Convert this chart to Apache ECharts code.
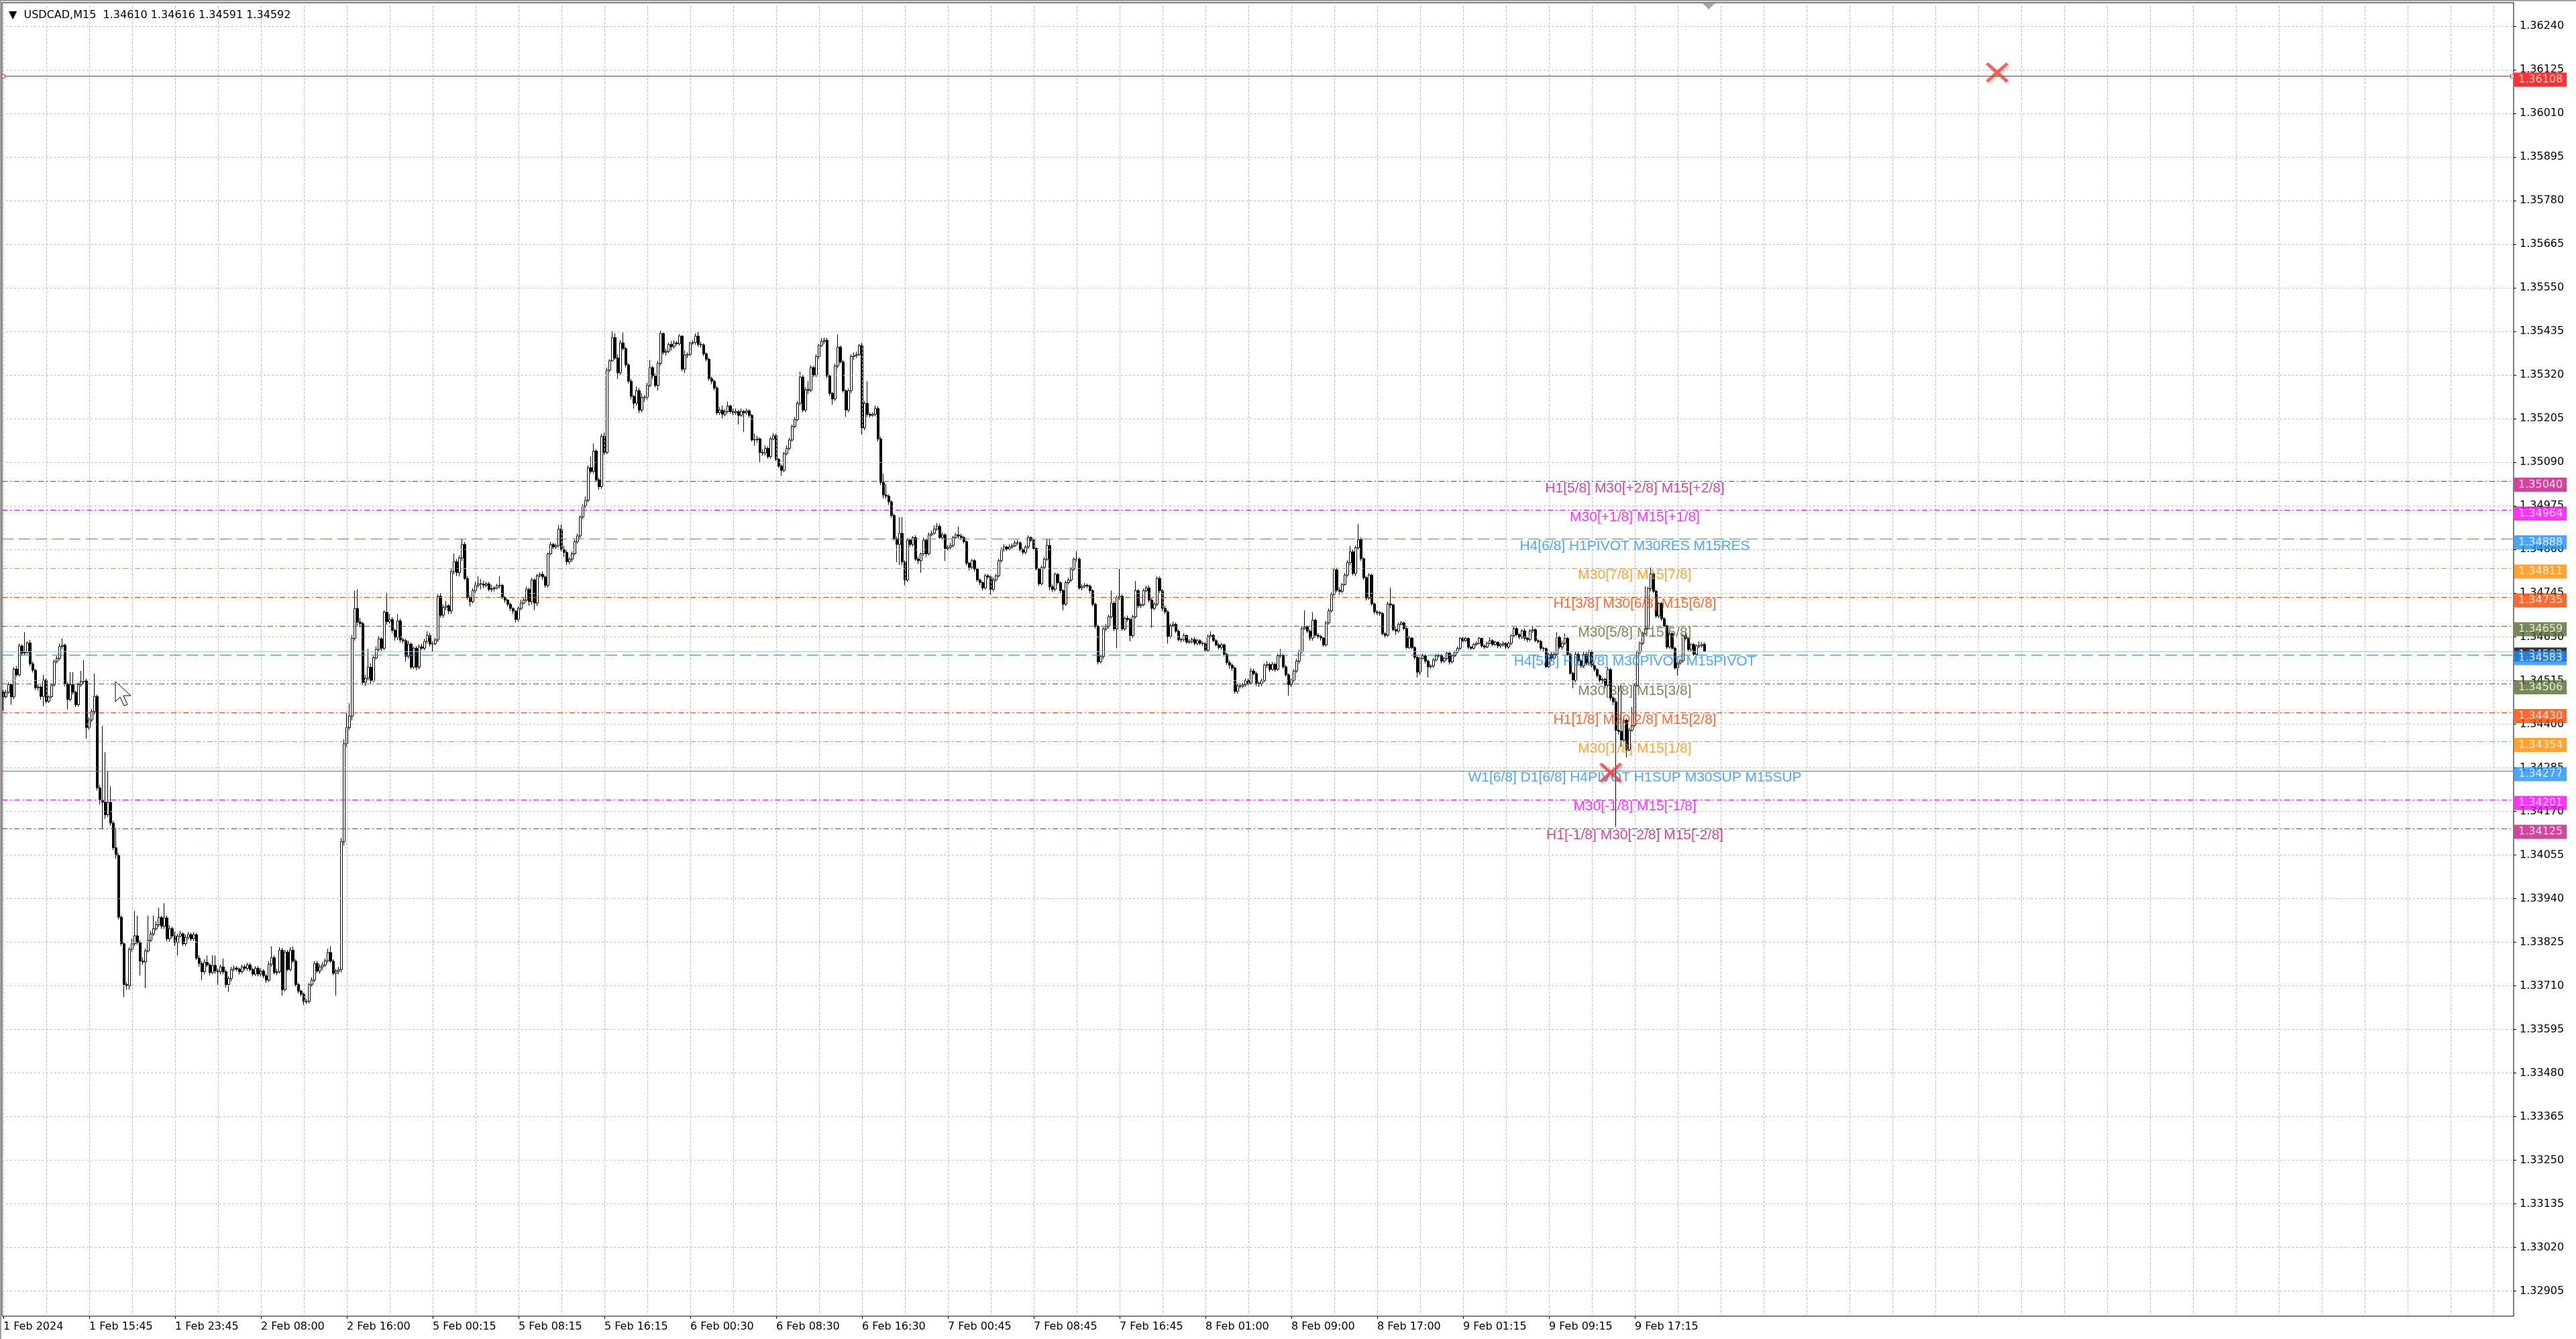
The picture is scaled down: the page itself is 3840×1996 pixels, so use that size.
<!DOCTYPE html>
<html>
<head>
<meta charset="utf-8">
<title>USDCAD,M15</title>
<script src="https://cdn.jsdelivr.net/npm/echarts@6/dist/echarts.min.js"></script>
<style>
  html, body { margin: 0; padding: 0; background: #fff; }
  #chart { width: 3840px; height: 1996px; }
</style>
</head>
<body>
<div id="chart"></div>
<script>
// prices are stored as points above 1.30000 (1 point = 0.00001)
var firstOpen = 4485;

var closePts = [
  4472,4484,4504,4472,4545,4530,4606,4587,4589,4614, 4559,4542,4496,4498,4473,4516,4460,4472,4503,4565,
  4573,4605,4608,4506,4465,4504,4484,4451,4504,4512, 4514,4391,4411,4433,4473,4232,4200,4194,4161,4194,
  4139,4074,4054,3891,3821,3713,3710,3806,3821,3842, 3824,3775,3773,3802,3830,3847,3861,3871,3890,3867,
  3889,3834,3861,3842,3824,3841,3847,3821,3838,3845, 3834,3845,3783,3769,3747,3772,3765,3745,3764,3749,
  3747,3760,3747,3713,3729,3753,3757,3754,3747,3760, 3756,3765,3753,3741,3756,3741,3749,3736,3725,3767,
  3784,3745,3747,3804,3700,3799,3753,3804,3775,3713, 3696,3688,3668,3669,3713,3725,3769,3749,3760,3765,
  3776,3798,3775,3743,3749,3753,4090,4348,4391,4421, 4626,4705,4669,4665,4510,4521,4550,4515,4575,4597,
  4625,4600,4695,4670,4676,4647,4629,4672,4622,4620, 4579,4611,4550,4600,4550,4604,4600,4618,4633,4611,
  4612,4622,4737,4687,4708,4712,4698,4802,4828,4799, 4838,4874,4784,4734,4723,4752,4766,4770,4769,4766,
  4770,4755,4757,4759,4765,4766,4734,4727,4716,4705, 4698,4676,4705,4719,4727,4755,4723,4780,4719,4791,
  4795,4788,4766,4849,4874,4867,4871,4914,4860,4853, 4828,4835,4849,4881,4896,4946,4975,4990,5076,5066,
  5120,5044,5026,5159,5116,5333,5358,5419,5365,5326, 5405,5390,5347,5304,5264,5246,5279,5228,5261,5262,
  5293,5340,5318,5293,5351,5430,5380,5383,5401,5395, 5405,5403,5423,5336,5373,5375,5405,5406,5423,5401,
  5400,5376,5362,5311,5304,5286,5221,5228,5217,5224, 5239,5224,5221,5224,5214,5224,
  5221,5226,5214,5149,5150,5152,5116,5115,5127,5105, 5152,5160,5098,5080,5069,5113,5127,5149,5185,5203,
  5246,5315,5228,5282,5280,5340,5320,5369,5398,5409, 5412,5318,5272,5257,5344,5394,5355,5279,5228,5279,
  5369,5372,5374,5398,5181,5246,5217,5214,5217,5232, 5152,5037,5004,5001,4986,4950,4889,4874,4903,4828,
  4780,4885,4874,4892,4835,4831,4849,4885,4849,4899, 4903,4914,4921,4892,4899,4863,4866,4871,4892,4899,
  4896,4892,4881,4824,4813,4831,4809,4780,4773,4759, 4791,4788,4755,4780,4791,4831,4860,4867,4862,4867,
  4870,
  4878,4878,4860,4853,4867,4892,4885,4863,4809,4770, 4813,4835,4871,4762,4755,4795,4773,4752,4716,4773,
  4780,4809,4835,4835,4759,4763,4766,4764,4752,4716, 4658,4564,4578,4651,4658,4683,4719,4651,4734,4737,
  4651,4679,4676,4633,4683,4752,4712,4715,4752,4759, 4727,4705,4716,4784,4752,4705,
  4696,4631,4660,4663,4645,4623,4622,4634,4616,4618, 4623,4613,4620,4613,4612,4594,4631,4634,4620,4609,
  4602,4609,4584,4562,4555,4548,4486,4501,4500,4504, 4515,4508,4540,4533,4508,4506,4515,4555,4557,4544,
  4558,4544,4580,4582,4551,4530,4504,4515,4540,4566, 4591,4652,4656,4645,4627,4674,4634,4631,4627,4609,
  4667,4699,4742,4807,4753,4750,4768,4793,4826,4854, 4797,4865,4887,4836,4786,4732,4793,4717,4696,4694,
  4692,4638,4634,4717,4714,4649,4645,4663,4667,4652, 4602,4627,4602,4576,4537,4573,4580,4566,4551,4553,
  4569,4580,4581,4566,4573,4587,
  4564,4580,4590,4600,4626,4620,4626,4603,4600,4610, 4613,4626,4606,4603,4613,4620,4610,4616,4606,4610,
  4613,4603,4613,4633,4652,4636,4629,4646,4626,4623, 4646,4649,4620,4618,4600,4599,4551,4584,4574,4584,
  4629,4603,4613,4626,4584,4534,4515,4584,4567,4554, 4584,4561,4590,4554,4544,4528,4515,4518,4502,4544,
  4469,4459,4384,4381,4358,4410,4332,4384,4397,4502, 4590,4613,4639,4652,4757,4796,4750,4685,4718,4678,
  4659,4603,4639,4600,4548,4561,4567,4633,4626,4597, 4610,4584,4606,4607,4610,4592
];

var highPts = [
  4490,4490,4510,4508,4550,4553,4612,4610,4642,4618, 4622,4565,4546,4505,4502,4530,4520,4476,4508,4570,
  4580,4612,4626,4612,4510,4537,4537,4488,4510,4540, 4569,4520,4418,4440,4533,4478,4240,4395,4326,4277,
  4236,4145,4127,4060,3895,3826,3720,3812,3835,3907, 3895,3830,3785,3808,3895,3855,3895,3880,3916,3895,
  3928,3895,3870,3866,3853,3848,3855,3851,3845,3852, 3850,3852,3850,3790,3775,3780,3790,3770,3790,3790,
  3755,3766,3782,3752,3735,3760,3764,3762,3758,3766, 3766,3771,3770,3758,3762,3762,3756,3754,3742,3775,
  3814,3790,3755,3812,3810,3805,3805,3812,3814,3780, 3718,3700,3692,3676,3718,3732,3775,3776,3768,3772,
  3782,3808,3814,3780,3755,3760,4100,4360,4430,4455, 4635,4752,4755,4680,4670,4530,4598,4560,4580,4605,
  4632,4630,4700,4745,4690,4682,4652,4690,4678,4628, 4625,4620,4615,4605,4606,4610,4612,4625,4645,4640,
  4618,4628,4742,4745,4715,4725,4716,4810,4850,4835, 4845,4889,4880,4790,4740,4758,4775,4790,4782,4778,
  4775,4775,4768,4764,4770,4790,4770,4738,4730,4720, 4708,4700,4710,4728,4732,4762,4760,4786,4785,4796,
  4800,4802,4792,4852,4880,4878,4876,4925,4926,4870, 4858,4840,4855,4886,4902,4950,4980,5000,5082,5105,
  5140,5125,5050,5165,5168,5340,5362,5435,5430,5375, 5412,5432,5395,5352,5310,5268,5290,5286,5272,5268,
  5300,5360,5345,5325,5358,5437,5432,5390,5406,5410, 5412,5410,5428,5425,5385,5380,5408,5412,5430,5434,
  5408,5404,5380,5366,5316,5308,5292,5236,5240,5230, 5250,5242,5232,5232,5228,5232,
  5228,5232,5230,5218,5167,5160,5156,5125,5135,5132, 5158,5167,5165,5102,5085,5118,5135,5155,5190,5210,
  5252,5329,5320,5288,5304,5346,5345,5375,5402,5418, 5419,5418,5322,5276,5350,5427,5398,5360,5283,5285,
  5375,5380,5382,5402,5405,5252,5304,5222,5222,5240, 5238,5158,5060,5033,5006,4990,4955,4895,4946,4946,
  4832,4890,4888,4896,4898,4842,4852,4892,4888,4905, 4910,4924,4930,4928,4905,4903,4872,4878,4896,4904,
  4921,4902,4896,4884,4828,4836,4835,4812,4784,4776, 4796,4796,4792,4786,4796,4836,4866,4874,4870,4874,
  4876,
  4884,4886,4882,4864,4872,4898,4895,4888,4866,4812, 4818,4840,4889,4889,4768,4800,4798,4776,4756,4778,
  4786,4814,4840,4856,4840,4770,4772,4770,4768,4756, 4720,4662,4582,4656,4664,4688,4752,4724,4738,4809,
  4742,4684,4686,4680,4688,4777,4756,4720,4757,4765, 4766,4732,4722,4789,4789,4756,
  4712,4700,4665,4670,4668,4650,4628,4640,4636,4624, 4628,4630,4625,4624,4618,4616,4636,4645,4638,4624,
  4614,4614,4612,4588,4568,4560,4552,4505,4508,4509, 4520,4520,4548,4546,4538,4512,4520,4560,4566,4562,
  4564,4562,4586,4598,4586,4556,4534,4520,4545,4572, 4596,4658,4700,4660,4650,4695,4678,4640,4636,4630,
  4672,4705,4748,4812,4812,4760,4772,4798,4832,4870, 4860,4870,4927,4892,4840,4790,4798,4797,4720,4700,
  4698,4696,4642,4722,4760,4717,4656,4668,4672,4670, 4656,4632,4630,4606,4580,4578,4586,4584,4570,4558,
  4574,4585,4586,4585,4578,4592,
  4590,4584,4594,4604,4630,4630,4630,4628,4606,4614, 4618,4630,4628,4610,4618,4629,4624,4620,4618,4614,
  4618,4616,4618,4636,4656,4656,4640,4650,4652,4630, 4650,4659,4652,4624,4622,4604,4602,4588,4590,4592,
  4642,4633,4620,4639,4630,4588,4538,4590,4590,4572, 4590,4590,4596,4594,4558,4548,4532,4522,4522,4550,
  4548,4474,4469,4502,4502,4413,4415,4390,4445,4506, 4594,4618,4644,4763,4762,4813,4800,4755,4722,4722,
  4682,4662,4644,4642,4604,4565,4572,4638,4640,4630, 4614,4614,4610,4618,4616,4616
];

var lowPts = [
  4435,4468,4480,4451,4466,4525,4526,4580,4582,4585, 4552,4536,4490,4488,4464,4447,4455,4456,4468,4500,
  4560,4568,4598,4500,4439,4460,4478,4445,4446,4498, 4505,4362,4385,4405,4425,4225,4188,4123,4150,4155,
  4132,4068,4045,3885,3815,3680,3700,3700,3800,3815, 3818,3737,3766,3704,3798,3825,3842,3855,3865,3860,
  3860,3828,3826,3836,3815,3790,3838,3815,3815,3832, 3828,3828,3778,3760,3725,3740,3760,3738,3740,3742,
  3713,3740,3740,3705,3694,3722,3748,3748,3740,3742, 3750,3750,3748,3735,3736,3735,3735,3730,3718,3720,
  3760,3740,3738,3742,3684,3695,3748,3748,3770,3708, 3690,3682,3660,3662,3664,3708,3720,3744,3742,3752,
  3760,3770,3770,3738,3684,3740,3745,4080,4340,4385, 4410,4620,4660,4655,4503,4500,4515,4505,4510,4570,
  4590,4592,4595,4662,4665,4640,4620,4622,4615,4612, 4565,4572,4545,4545,4542,4545,4595,4595,4612,4604,
  4590,4608,4616,4680,4680,4700,4690,4690,4795,4790, 4790,4830,4780,4728,4710,4718,4745,4760,4755,4758,
  4760,4750,4748,4750,4755,4758,4730,4720,4710,4698, 4690,4668,4670,4700,4715,4722,4712,4715,4700,4712,
  4786,4780,4760,4760,4845,4862,4862,4866,4855,4840, 4820,4822,4828,4845,4876,4890,4940,4970,4985,5060,
  5060,5040,5018,5020,5110,5112,5328,5355,5360,5310, 5320,5385,5340,5298,5256,5232,5240,5220,5222,5250,
  5255,5288,5310,5288,5280,5345,5374,5372,5378,5385, 5390,5398,5398,5330,5325,5365,5370,5400,5400,5395,
  5392,5370,5356,5305,5296,5280,5215,5215,5206,5212, 5220,5218,5214,5215,5190,5210,
  5170,5215,5208,5145,5134,5142,5091,5108,5108,5100, 5100,5148,5094,5075,5055,5064,5108,5122,5145,5180,
  5198,5240,5222,5222,5270,5275,5315,5315,5362,5394, 5402,5312,5266,5242,5252,5338,5350,5274,5210,5222,
  5272,5360,5365,5370,5163,5175,5210,5208,5210,5212, 5145,5030,4995,4994,4978,4944,4884,4827,4820,4820,
  4766,4775,4868,4868,4830,4822,4799,4844,4840,4845, 4895,4900,4910,4888,4888,4830,4858,4860,4866,4888,
  4890,4886,4876,4818,4805,4808,4802,4775,4766,4752, 4755,4782,4741,4750,4775,4786,4826,4855,4856,4858,
  4862,
  4866,4872,4855,4846,4848,4862,4880,4860,4805,4765, 4766,4808,4830,4752,4748,4750,4768,4745,4700,4712,
  4768,4775,4804,4828,4754,4752,4758,4758,4745,4710, 4652,4557,4560,4572,4645,4652,4678,4645,4600,4728,
  4646,4646,4670,4618,4628,4678,4706,4706,4710,4748, 4720,4654,4700,4710,4745,4698,
  4690,4612,4626,4656,4640,4618,4616,4618,4612,4612, 4612,4608,4608,4608,4606,4590,4590,4626,4616,4605,
  4596,4596,4578,4556,4546,4540,4480,4480,4494,4495, 4498,4502,4504,4528,4500,4498,4500,4510,4548,4538,
  4540,4538,4540,4574,4546,4525,4475,4498,4510,4535, 4560,4586,4648,4640,4620,4620,4628,4625,4620,4604,
  4604,4662,4694,4738,4748,4740,4745,4765,4788,4820, 4792,4790,4860,4830,4780,4726,4728,4712,4690,4688,
  4686,4634,4628,4630,4705,4645,4635,4640,4660,4648, 4598,4598,4598,4570,4523,4530,4570,4560,4523,4546,
  4548,4565,4575,4560,4562,4568,
  4557,4560,4576,4586,4596,4616,4616,4598,4596,4596, 4606,4610,4602,4598,4600,4610,4605,4606,4600,4600,
  4604,4598,4598,4608,4628,4632,4624,4624,4620,4616, 4618,4640,4616,4612,4594,4592,4548,4548,4566,4570,
  4580,4598,4596,4608,4580,4530,4495,4510,4560,4548, 4548,4556,4556,4550,4538,4522,4510,4505,4495,4498,
  4462,4450,4129,4372,4340,4352,4312,4328,4380,4392, 4498,4585,4608,4634,4648,4750,4745,4680,4680,4672,
  4655,4598,4598,4596,4544,4528,4556,4562,4620,4592, 4592,4580,4580,4600,4602,4591
];

// time axis labels, one every 32 bars
var timeLabels = ['1 Feb 2024', '1 Feb 15:45', '1 Feb 23:45', '2 Feb 08:00', '2 Feb 16:00',
  '5 Feb 00:15', '5 Feb 08:15', '5 Feb 16:15', '6 Feb 00:30', '6 Feb 08:30', '6 Feb 16:30',
  '7 Feb 00:45', '7 Feb 08:45', '7 Feb 16:45', '8 Feb 01:00', '8 Feb 09:00', '8 Feb 17:00',
  '9 Feb 01:15', '9 Feb 09:15', '9 Feb 17:15'];

var yTicks = [1.36240, 1.36125, 1.36010, 1.35895, 1.35780, 1.35665, 1.35550, 1.35435, 1.35320, 1.35205,
  1.35090, 1.34975, 1.34860, 1.34745, 1.34630, 1.34515, 1.34400, 1.34285, 1.34170, 1.34055,
  1.33940, 1.33825, 1.33710, 1.33595, 1.33480, 1.33365, 1.33250, 1.33135, 1.33020, 1.32905];

// Murrey math levels drawn by the indicator
var levelPrices = [1.35040, 1.34964, 1.34888, 1.34811, 1.34735, 1.34659, 1.34583,
  1.34506, 1.34430, 1.34354, 1.34277, 1.34201, 1.34125];
var levelNames = ['H1[5/8] M30[+2/8] M15[+2/8]', 'M30[+1/8] M15[+1/8]', 'H4[6/8] H1PIVOT M30RES M15RES',
  'M30[7/8] M15[7/8]', 'H1[3/8] M30[6/8] M15[6/8]', 'M30[5/8] M15[5/8]', 'H4[5/8] H1[2/8] M30PIVOT M15PIVOT',
  'M30[3/8] M15[3/8]', 'H1[1/8] M30[2/8] M15[2/8]', 'M30[1/8] M15[1/8]',
  'W1[6/8] D1[6/8] H4PIVOT H1SUP M30SUP M15SUP', 'M30[-1/8] M15[-1/8]', 'H1[-1/8] M30[-2/8] M15[-2/8]'];
var levelColors = ['#C71585', '#FF00FF', '#1E90FF', '#FF8C00', '#FF4500', '#556B2F', '#1E90FF',
  '#556B2F', '#FF4500', '#FF8C00', '#1E90FF', '#FF00FF', '#C71585'];
var levelStyles = ['dashdot', 'dashdot', 'dash', 'dashdot', 'dashdot', 'dashdot', 'dash',
  'dashdot', 'dashdot', 'dashdot', 'solid', 'dashdot', 'dashdot'];

var redLinePrice = 1.36108;
var bidPrice = 1.34592;
var crossMarks = [[743, 1.36118], [599, 1.34272]];

var slotCount = 936;      // bar slots across the chart window
var textBar = 608;        // bar the level texts are centred on

function px(p) { return +(1.3 + p / 100000).toFixed(5); }

var candles = [];
var prev = firstOpen;
for (var i = 0; i < closePts.length; i++) {
  candles.push([px(prev), px(closePts[i]), px(lowPts[i]), px(highPts[i])]);
  prev = closePts[i];
}
var last = candles[candles.length - 1];

var slots = [];
for (var s = 0; s < slotCount; s++) slots.push(String(s));

var dashTypes = { dashdot: [8, 4, 2, 4], dash: [17, 8], solid: 'solid' };

function labelAt(idx) { return idx % 32 === 0 && idx / 32 < timeLabels.length; }

// grid lines
var gridLines = yTicks.map(function (v) {
  return { yAxis: v, lineStyle: { color: '#C0C0C0', type: [3, 3], width: 1 } };
});
for (var g = 0; g < slotCount; g += 16) {
  gridLines.push({ xAxis: g, lineStyle: { color: '#C0C0C0', type: [4, 2], width: 1 } });
}

var levelLines = levelPrices.map(function (p, k) {
  return { yAxis: p, lineStyle: { color: levelColors[k], type: dashTypes[levelStyles[k]], width: 1 } };
});
levelLines.push({ yAxis: redLinePrice, lineStyle: { color: '#FF0000', type: 'solid', width: 1 } });

var tagLabel = {
  show: true, position: 'right', distance: 3, offset: [0, 5],
  color: '#fff', fontFamily: 'DejaVu Sans', fontSize: 16,
  padding: [3, 6, 2, 6],
  formatter: function (p) { return p.value[1].toFixed(5); }
};

var levelTags = levelPrices.map(function (p, k) {
  return { value: [slotCount - 1, p], label: { backgroundColor: levelColors[k] } };
});
levelTags.push({ value: [slotCount - 1, redLinePrice], label: { backgroundColor: '#FF0000' } });

function hLines(list) {
  return { symbol: 'none', silent: true, animation: false, precision: 5, label: { show: false }, data: list };
}

var chart = echarts.init(document.getElementById('chart'));

chart.setOption({
  animation: false,
  backgroundColor: '#fff',
  title: {
    text: '\u25BC  USDCAD,M15  ' + last[0].toFixed(5) + ' ' + last[3].toFixed(5) + ' ' +
      last[2].toFixed(5) + ' ' + last[1].toFixed(5),
    left: 8, top: 10,
    textStyle: { fontFamily: 'DejaVu Sans', fontSize: 16, fontWeight: 'normal', color: '#000' }
  },
  grid: {
    left: 3, right: 93, top: 4, bottom: 34,
    show: true, borderColor: '#000', borderWidth: 1, backgroundColor: '#fff'
  },
  xAxis: {
    type: 'category',
    data: slots,
    boundaryGap: true,
    axisLine: { show: false },
    axisTick: { show: true, interval: labelAt, alignWithLabel: true, length: 4, lineStyle: { color: '#000' } },
    axisLabel: {
      interval: labelAt, align: 'left', margin: 8,
      fontFamily: 'DejaVu Sans', fontSize: 16, color: '#000',
      formatter: function (v, idx) { return timeLabels[idx / 32] || ''; }
    },
    splitLine: { show: false }
  },
  yAxis: {
    type: 'value',
    position: 'right',
    min: 1.32839,
    max: 1.36302,
    axisLine: { show: false },
    axisTick: { show: true, length: 4, lineStyle: { color: '#000' }, customValues: yTicks },
    axisLabel: {
      customValues: yTicks, margin: 9,
      fontFamily: 'DejaVu Sans', fontSize: 16, color: '#000',
      formatter: function (v) { return v.toFixed(5); }
    },
    splitLine: { show: false }
  },
  graphic: [
    { type: 'rect', shape: { x: 0, y: 0, width: 3840, height: 2 }, style: { fill: '#A0A0A0' }, silent: true },
    { type: 'rect', shape: { x: 0, y: 0, width: 2, height: 1996 }, style: { fill: '#A0A0A0' }, silent: true },
    // chart shift marker
    { type: 'polygon', z: 100, shape: { points: [[2538, 5], [2557, 5], [2547, 14]] }, style: { fill: '#A8A8A8' }, silent: true },
    // mouse pointer left on the chart
    { type: 'polygon', z: 100, silent: true,
      shape: { points: [[172, 1016], [172, 1046], [179, 1039], [185, 1052], [190, 1050], [184, 1037], [195, 1037]] },
      style: { fill: '#fff', stroke: '#000', lineWidth: 1 } }
  ],
  series: [
    { name: 'grid', type: 'line', data: [], z: 1, silent: true, markLine: hLines(gridLines) },
    {
      name: 'USDCAD', type: 'candlestick', data: candles, z: 3,
      large: false, barWidth: 3,
      itemStyle: { color: '#fff', color0: '#000', borderColor: '#000', borderColor0: '#000', borderWidth: 1 }
    },
    {
      name: 'bid', type: 'line', data: [], z: 4, silent: true,
      markLine: hLines([{ yAxis: bidPrice, lineStyle: { color: '#C0C0C0', type: 'solid', width: 1 } }])
    },
    { name: 'levels', type: 'line', data: [], z: 5, silent: true, markLine: hLines(levelLines) },
    {
      name: 'lineEnds', type: 'scatter', z: 6, silent: true,
      symbol: 'rect', symbolSize: 5,
      itemStyle: { color: '#fff', borderColor: '#FF0000', borderWidth: 1 },
      data: [[0, redLinePrice], [slotCount - 1, redLinePrice]]
    },
    {
      name: 'levelText', type: 'scatter', z: 7, silent: true, symbolSize: 0,
      data: levelPrices.map(function (p, k) {
        return { value: [textBar, p], label: { color: levelColors[k] } };
      }),
      label: {
        show: true, position: 'bottom', distance: 0,
        fontFamily: 'Liberation Sans', fontSize: 21,
        formatter: function (p) { return levelNames[p.dataIndex]; }
      }
    },
    {
      name: 'crosses', type: 'scatter', z: 8, silent: true,
      symbol: 'path://M0,3 L3,0 L15,12 L27,0 L30,3 L18,15 L30,27 L27,30 L15,18 L3,30 L0,27 L12,15 Z',
      symbolSize: [34, 30],
      itemStyle: { color: '#F04343', shadowBlur: 4, shadowColor: 'rgba(0,0,0,0.35)', shadowOffsetX: 2, shadowOffsetY: 2 },
      data: crossMarks
    },
    {
      name: 'bidTag', type: 'scatter', z: 9, silent: true, symbolSize: 0,
      data: [{ value: [slotCount - 1, bidPrice], label: { backgroundColor: '#000' } }],
      label: tagLabel
    },
    {
      name: 'levelTags', type: 'scatter', z: 10, silent: true, symbolSize: 0,
      data: levelTags,
      label: tagLabel
    }
  ]
});
</script>
</body>
</html>
